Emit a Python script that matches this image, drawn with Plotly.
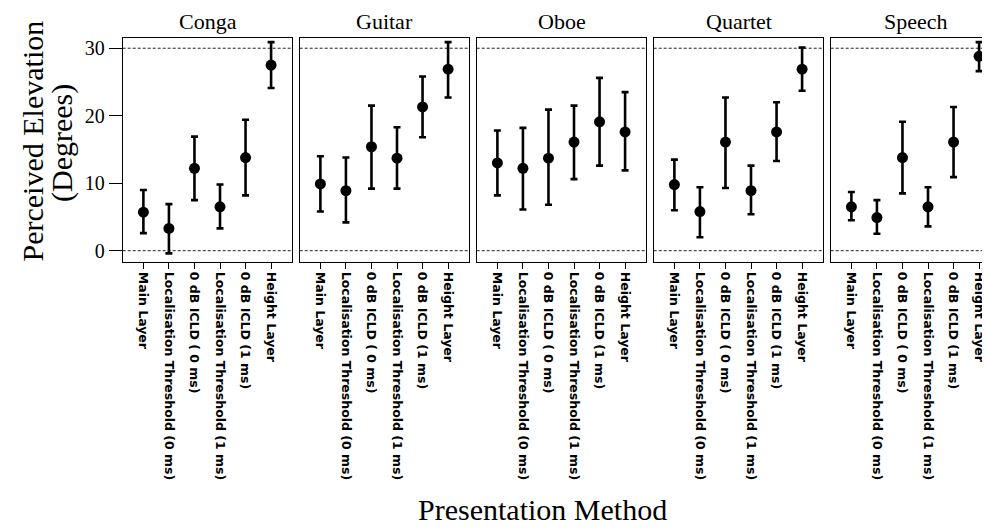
import plotly.graph_objects as go

# page body has an 8px margin, so the figure is 8px smaller and shifted
OFF = 8
W, H = 990 - OFF, 528 - OFF

methods = ["Main Layer", "Localisation Threshold (0 ms)", "0 dB ICLD ( 0 ms)",
           "Localisation Threshold (1 ms)", "0 dB ICLD (1 ms)", "Height Layer"]
instruments = ["Conga", "Guitar", "Oboe", "Quartet", "Speech"]

conga_mean = [5.7, 3.3, 12.2, 6.5, 13.8, 27.5]
conga_upper = [9.0, 6.9, 16.9, 9.8, 19.4, 30.9]
conga_lower = [2.6, -0.4, 7.5, 3.3, 8.2, 24.1]

guitar_mean = [9.9, 8.9, 15.4, 13.7, 21.3, 26.9]
guitar_upper = [14.0, 13.8, 21.5, 18.3, 25.8, 30.9]
guitar_lower = [5.8, 4.2, 9.2, 9.2, 16.8, 22.7]

oboe_mean = [13.0, 12.2, 13.7, 16.1, 19.1, 17.6]
oboe_upper = [17.8, 18.2, 20.9, 21.5, 25.6, 23.5]
oboe_lower = [8.2, 6.1, 6.8, 10.6, 12.6, 11.9]

quartet_mean = [9.8, 5.8, 16.1, 8.9, 17.6, 26.9]
quartet_upper = [13.5, 9.4, 22.7, 12.6, 22.0, 30.1]
quartet_lower = [6.0, 2.0, 9.3, 5.4, 13.3, 23.7]

speech_mean = [6.5, 4.9, 13.8, 6.5, 16.1, 28.8]
speech_upper = [8.7, 7.5, 19.1, 9.4, 21.3, 30.9]
speech_lower = [4.5, 2.5, 8.5, 3.6, 10.9, 26.6]

means = [conga_mean, guitar_mean, oboe_mean, quartet_mean, speech_mean]
uppers = [conga_upper, guitar_upper, oboe_upper, quartet_upper, speech_upper]
lowers = [conga_lower, guitar_lower, oboe_lower, quartet_lower, speech_lower]

y_ticks = [0, 10, 20, 30]
ref_lines = [0, 30]

# layout geometry (pixels, in reference-screen coordinates)
panel_left0 = 122.7
panel_step = 177.0
panel_w = 169.6
panel_top = 37.7
panel_bottom = 262.3
px_per_cat = 25.54
x_start = -0.81


def px(x):
    return (x - OFF) / W


def py(y):
    return 1 - (y - OFF) / H


fig = go.Figure()
serif = "Liberation Serif"
sans = "DejaVu Sans"

layout = dict(
    width=W, height=H,
    margin=dict(l=0, r=0, t=0, b=0),
    paper_bgcolor="white", plot_bgcolor="white",
    showlegend=False,
)
shapes = []
annotations = []

for i, inst in enumerate(instruments):
    n = "" if i == 0 else str(i + 1)
    xa = "x" + n
    ya = "y" + n
    left = panel_left0 + panel_step * i
    right = min(left + panel_w, 990)
    xr_end = x_start + (right - left) / px_per_cat
    err_p = [u - m for u, m in zip(uppers[i], means[i])]
    err_m = [m - l for m, l in zip(means[i], lowers[i])]
    fig.add_trace(go.Scatter(
        x=methods, y=means[i], xaxis=xa, yaxis=ya,
        mode="markers",
        marker=dict(color="black", size=11),
        error_y=dict(type="data", symmetric=False, array=err_p, arrayminus=err_m,
                     color="black", thickness=2.6, width=3.5),
        cliponaxis=False,
    ))
    is_last = (i == len(instruments) - 1)
    layout["xaxis" + n] = dict(
        domain=[px(left), min(px(right), 1.0)], anchor=ya,
        type="category", categoryorder="array", categoryarray=methods,
        range=[x_start, xr_end],
        showline=True, linecolor="black", linewidth=1, mirror=True,
        ticks="outside", ticklen=6, tickwidth=1.3, tickcolor="black",
        tickangle=90, showgrid=False, zeroline=False,
        tickfont=dict(family=sans, size=12.5, color="black", weight="bold"),
    )
    layout["yaxis" + n] = dict(
        domain=[py(panel_bottom), py(panel_top)], anchor=xa,
        range=[-1.72, 31.56],
        showline=True, linecolor="black", linewidth=1, mirror=not is_last,
        showgrid=False, zeroline=False,
        tickvals=y_ticks,
        ticks="outside" if i == 0 else "",
        ticklen=13, tickwidth=1, tickcolor="black",
        showticklabels=(i == 0),
        tickfont=dict(family=serif, size=20, color="black"),
    )
    for v in ref_lines:
        shapes.append(dict(type="line", xref=xa + " domain", x0=0, x1=1,
                           yref=ya, y0=v, y1=v,
                           line=dict(color="#222222", width=1, dash="3px,2px"),
                           layer="below"))
    annotations.append(dict(
        text=inst, x=px(left + panel_w / 2), y=py(36),
        xref="paper", yref="paper", xanchor="center", yanchor="bottom",
        showarrow=False, font=dict(family=serif, size=22, color="black")))

annotations.append(dict(
    text="Perceived Elevation", x=px(31.5), y=py(141),
    xref="paper", yref="paper", xanchor="center", yanchor="middle",
    textangle=-90, showarrow=False,
    font=dict(family=serif, size=30, color="black")))
annotations.append(dict(
    text="(Degrees)", x=px(62), y=py(143),
    xref="paper", yref="paper", xanchor="center", yanchor="middle",
    textangle=-90, showarrow=False,
    font=dict(family=serif, size=30, color="black")))
annotations.append(dict(
    text="Presentation Method", x=px(542.5), y=0,
    xref="paper", yref="paper", xanchor="center", yanchor="bottom",
    showarrow=False, font=dict(family=serif, size=30, color="black")))

layout["shapes"] = shapes
layout["annotations"] = annotations
fig.update_layout(**layout)
fig.write_html("out.html")
